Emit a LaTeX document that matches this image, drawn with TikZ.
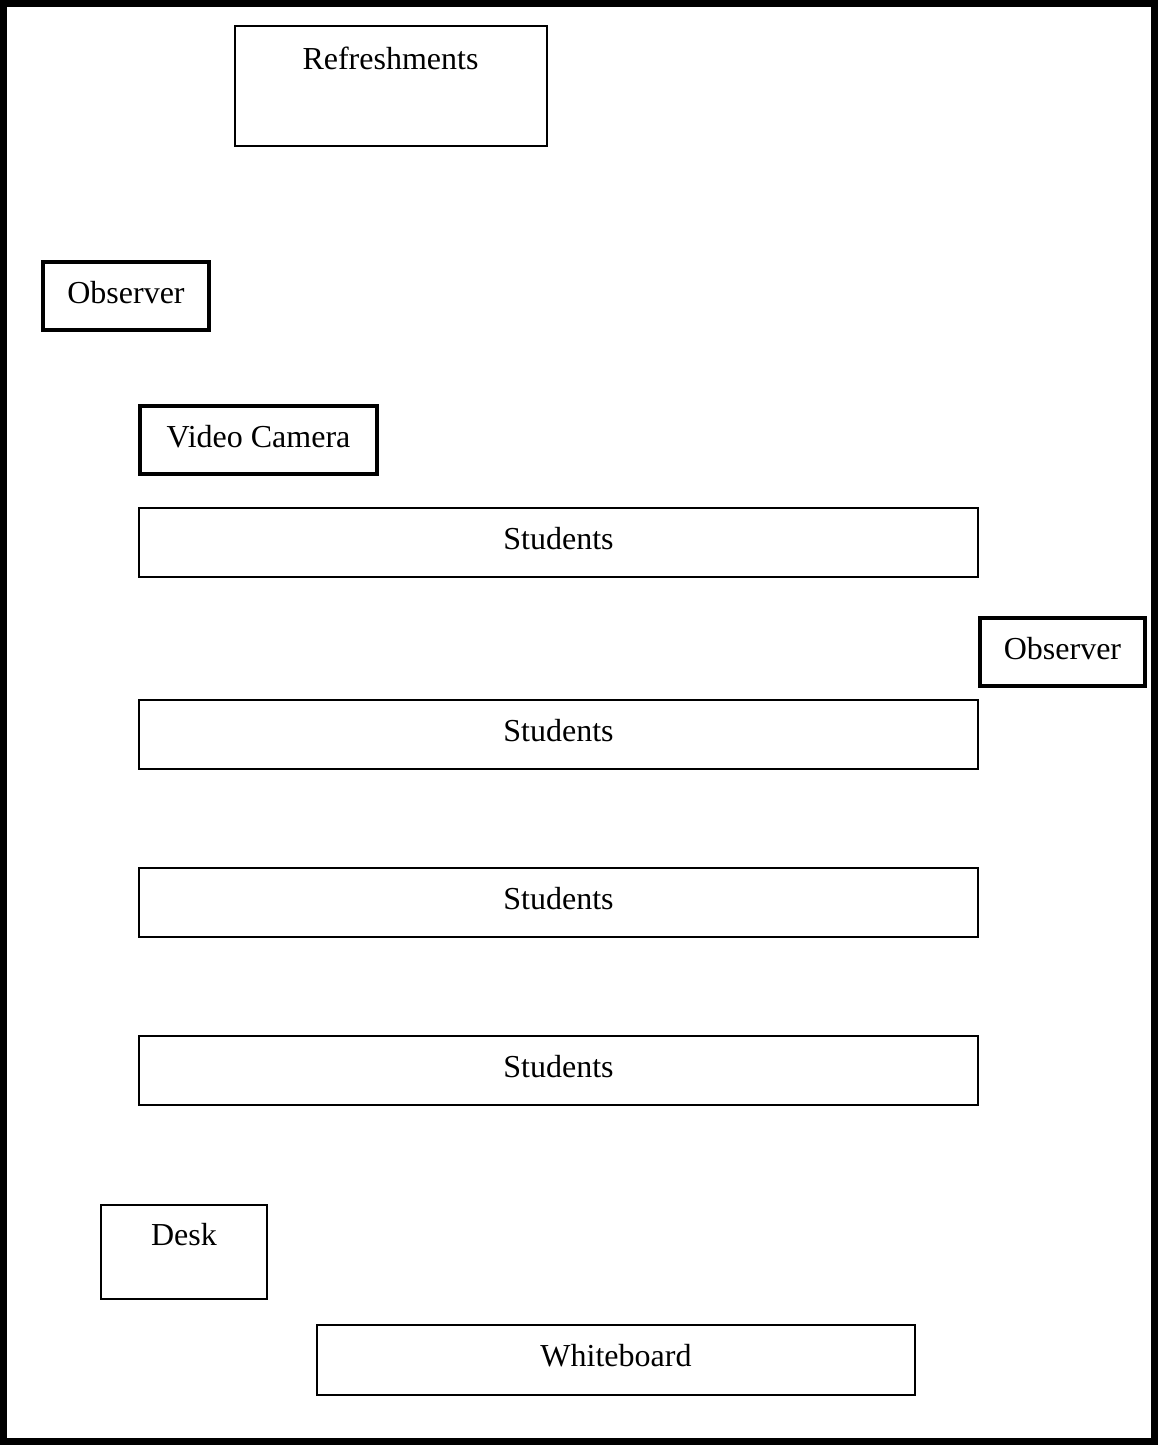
\documentclass[tikz,border=0pt]{standalone}
\usepackage{fontspec}
\setmainfont{Liberation Serif}
\begin{document}
\begin{tikzpicture}[x=1pt,y=-1pt,
  every node/.style={font=\fontsize{32}{38}\selectfont, inner sep=0pt, text height=24pt, text depth=10pt},
  thinbox/.style={draw, line width=2pt, rectangle},
  thickbox/.style={draw, line width=4pt, rectangle}]
\useasboundingbox (0,0) rectangle (1158,1445);
\fill[white] (0,0) rectangle (1158,1445);
\draw[line width=7pt] (3.5,3.5) rectangle (1154.5,1441.5);
\node[thinbox, minimum width=312pt, minimum height=119pt, text depth=57pt] (refresh) at (390.5,86) {Refreshments};
\node[thickbox, minimum width=166pt, minimum height=68pt] (obs1) at (126,296) {Observer};
\node[thickbox, minimum width=237pt, minimum height=68pt] (cam) at (258.5,440) {Video Camera};
\node[thinbox, minimum width=839pt, minimum height=69pt] (stud1) at (558.5,542.5) {Students};
\node[thickbox, minimum width=165pt, minimum height=68pt] (obs2) at (1062.5,652) {Observer};
\node[thinbox, minimum width=839pt, minimum height=69pt] (stud2) at (558.5,734.5) {Students};
\node[thinbox, minimum width=839pt, minimum height=69pt] (stud3) at (558.5,902.5) {Students};
\node[thinbox, minimum width=839pt, minimum height=69pt] (stud4) at (558.5,1070.5) {Students};
\node[thinbox, minimum width=166pt, minimum height=94pt, text depth=38pt] (desk) at (184,1252) {Desk};
\node[thinbox, minimum width=598pt, minimum height=70pt, text depth=12pt] (wb) at (616,1360) {Whiteboard};
\end{tikzpicture}
\end{document}
